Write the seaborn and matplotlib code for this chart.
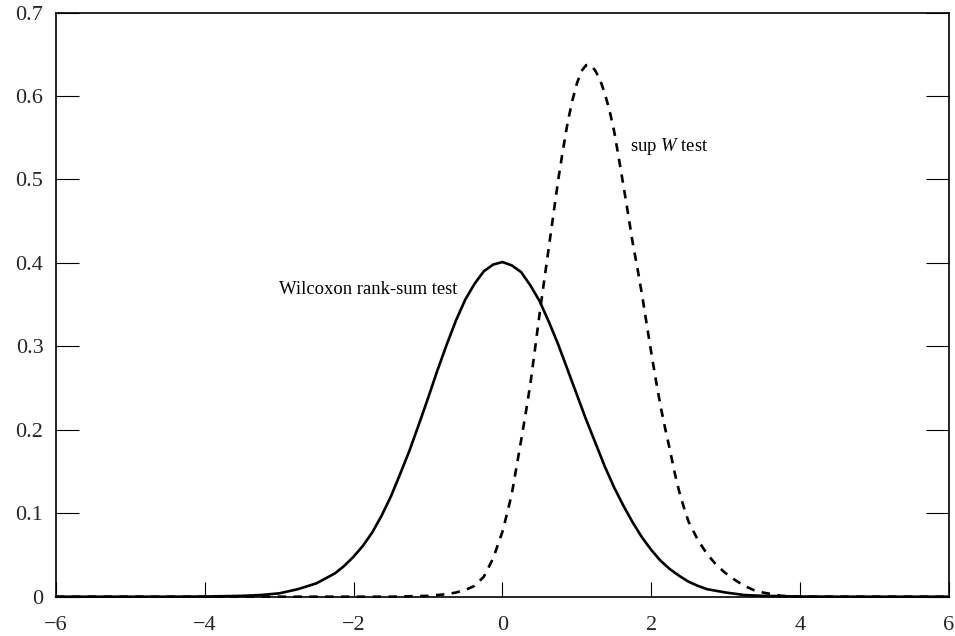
import matplotlib
matplotlib.use("Agg")
import matplotlib.pyplot as plt
import seaborn as sns
import pandas as pd

# ---- data ----
wilcoxon_x = [-6, -4.5, -4, -3.5, -3.375, -3.25, -3.125, -3, -2.875, -2.75, -2.625, -2.5, -2.375,
              -2.25, -2.125, -2, -1.875, -1.75, -1.625, -1.5, -1.375, -1.25, -1.125, -1,
              -0.875, -0.75, -0.625, -0.5, -0.375, -0.25, -0.125, 0, 0.125, 0.25, 0.375,
              0.5, 0.625, 0.75, 0.875, 1, 1.125, 1.25, 1.375, 1.5, 1.625, 1.75, 1.875, 2,
              2.125, 2.25, 2.375, 2.5, 2.625, 2.75, 2.875, 3, 3.25, 3.5, 4, 4.5, 6]
wilcoxon_y = [0, 0, 0.0002, 0.001, 0.0015, 0.002, 0.003, 0.004, 0.0065, 0.009, 0.0125, 0.016, 0.022,
              0.028, 0.037, 0.048, 0.061, 0.077, 0.097, 0.12, 0.147, 0.175, 0.206, 0.238,
              0.271, 0.302, 0.331, 0.356, 0.375, 0.39, 0.398, 0.401, 0.397, 0.389, 0.373,
              0.354, 0.329, 0.302, 0.272, 0.242, 0.212, 0.184, 0.156, 0.131, 0.109, 0.089, 0.071, 0.056,
              0.043, 0.033, 0.025, 0.018, 0.013, 0.009, 0.007, 0.005, 0.002, 0.001, 0.0002, 0, 0]

supw_x = [-6, -1.5, -1, -0.875, -0.75, -0.625, -0.5, -0.375, -0.25, -0.125, 0, 0.0625, 0.125,
          0.1875, 0.25, 0.3125, 0.375, 0.4375, 0.5, 0.5625, 0.625, 0.6875, 0.75, 0.8125,
          0.875, 0.9375, 1, 1.0625, 1.125, 1.1875, 1.25, 1.3125, 1.375, 1.4375, 1.5,
          1.5625, 1.625, 1.6875, 1.75, 1.8125, 1.875, 1.9375, 2, 2.0625, 2.125, 2.1875,
          2.25, 2.3125, 2.375, 2.4375, 2.5, 2.625, 2.75, 2.875, 3, 3.125, 3.25, 3.375,
          3.5, 3.625, 3.75, 4, 6]
supw_y = [0, 0, 0.001, 0.002, 0.003, 0.005, 0.008, 0.013, 0.024, 0.046, 0.078, 0.10, 0.123,
          0.155, 0.187, 0.22, 0.255, 0.297, 0.34, 0.38, 0.42, 0.46, 0.5, 0.535,
          0.568, 0.594, 0.615, 0.630, 0.637, 0.637, 0.630, 0.619, 0.603, 0.583, 0.558,
          0.526, 0.493, 0.459, 0.424, 0.394, 0.362, 0.327, 0.292, 0.259, 0.228, 0.201,
          0.176, 0.149, 0.126, 0.107, 0.09, 0.068, 0.051, 0.038, 0.028, 0.02, 0.013, 0.008,
          0.005, 0.003, 0.001, 0, 0]

x_ticks = [-6, -4, -2, 0, 2, 4, 6]
x_labels = ["\u22126", "\u22124", "\u22122", "0", "2", "4", "6"]
y_ticks = [0, 0.1, 0.2, 0.3, 0.4, 0.5, 0.6, 0.7]
y_labels = ["0", "0.1", "0.2", "0.3", "0.4", "0.5", "0.6", "0.7"]

label_wilcoxon = "Wilcoxon rank-sum test"
label_supw = r"sup $\it{W}$ test"

# ---- plot ----
sns.set_theme(style="white")
plt.rcParams["font.family"] = ["Liberation Serif", "DejaVu Serif"]
plt.rcParams["mathtext.fontset"] = "custom"
plt.rcParams["mathtext.it"] = "Liberation Serif:italic"
plt.rcParams["mathtext.rm"] = "Liberation Serif"

fig = plt.figure(figsize=(9.55, 6.36), dpi=100)
ax = fig.add_axes([0.0586, 0.0618, 0.9351, 0.9185])

df_w = pd.DataFrame({"x": wilcoxon_x, "y": wilcoxon_y})
df_s = pd.DataFrame({"x": supw_x, "y": supw_y})

sns.lineplot(data=df_w, x="x", y="y", ax=ax, color="black", lw=1.9, clip_on=False)
sns.lineplot(data=df_s, x="x", y="y", ax=ax, color="black", lw=1.9,
             linestyle=(0, (3.2, 2.8)), clip_on=False)

ax.set_xlim(-6, 6)
ax.set_ylim(0, 0.7)
ax.set_xticks(x_ticks)
ax.set_xticklabels(x_labels)
ax.set_yticks(y_ticks)
ax.set_yticklabels(y_labels)
ax.set_xlabel("")
ax.set_ylabel("")

ax.tick_params(axis="x", direction="in", length=10.5, width=0.8, color="black",
               labelsize=16, pad=14, top=False, bottom=True)
ax.tick_params(axis="y", direction="in", length=16.5, width=0.8, color="black",
               labelsize=16, pad=9, left=True, right=True)

for s in ax.spines.values():
    s.set_visible(True)
    s.set_color("black")
    s.set_linewidth(1.2)

ax.text(-3.0, 0.368, label_wilcoxon, fontsize=13.4, ha="left", va="center", color="black")
ax.text(1.71, 0.540, label_supw, fontsize=13.4, ha="left", va="center", color="black")

fig.savefig("out.png", dpi=100, facecolor="white")
